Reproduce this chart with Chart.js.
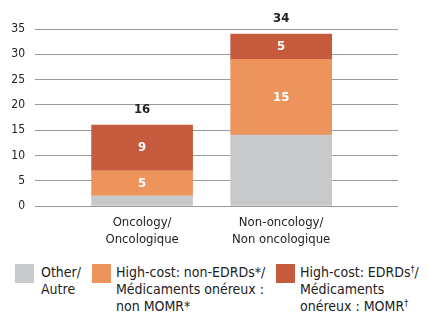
<!DOCTYPE html>
<html>
<head>
<meta charset="utf-8">
<script src="https://cdn.jsdelivr.net/npm/chart.js@4"></script>
<style>
  body { margin: 0; background: #fff; }
  #wrap { position: relative; width: 429px; height: 323px; }
  #box { position: absolute; left: 0; top: 0; width: 429px; height: 250px; }
  .leg { position: absolute; top: 264px; font-family: 'Liberation Sans Narrow', 'DejaVu Sans Condensed', sans-serif;
         font-size: 14px; line-height: 17px; color: #222; }
  .leg span.sw { position: absolute; left: 0; top: 0; width: 19px; height: 19px; }
  .leg div { position: absolute; top: 0; white-space: nowrap; }
  .leg sup { font-size: 9px; line-height: 0; vertical-align: 5px; }
</style>
</head>
<body>
<div id="wrap">
  <div id="box"><canvas id="chart1"></canvas></div>
  <div id="legend"></div>
</div>
<script>
const categories = [['Oncology/', 'Oncologique'], ['Non-oncology/', 'Non oncologique']];
const otherVals = [2, 14];
const nonEdrdVals = [5, 15];
const edrdVals = [9, 5];
const yTicks = [0, 5, 10, 15, 20, 25, 30, 35];

const seriesNames = [
  ['Other/', 'Autre'],
  ['High-cost: non-EDRDs*/', 'Médicaments onéreux :', 'non MOMR*'],
  ['High-cost: EDRDs†/', 'Médicaments', 'onéreux : MOMR†']
];
const seriesColors = ['#c8c9cb', '#ec945c', '#c65a3c'];

const font = "'Liberation Sans Narrow', 'DejaVu Sans Condensed', sans-serif";

// bars sit at x = 1, 2 on a linear axis so the gridlines can run wider than the bars
const toPoints = vals => vals.map((v, i) => ({ x: i + 1, y: v }));

const valueLabels = {
  id: 'valueLabels',
  afterDatasetsDraw(chart) {
    const c = chart.ctx;
    c.save();
    c.textAlign = 'center';
    c.textBaseline = 'middle';
    c.font = 'bold 13px ' + font;
    // segment values (skip the grey "other" part)
    [1, 2].forEach(di => {
      chart.getDatasetMeta(di).data.forEach((bar, i) => {
        c.fillStyle = '#fff';
        c.fillText(chart.data.datasets[di].data[i].y, bar.x, (bar.y + bar.base) / 2);
      });
    });
    // totals above each bar
    const top = chart.getDatasetMeta(2).data;
    top.forEach((bar, i) => {
      const total = otherVals[i] + nonEdrdVals[i] + edrdVals[i];
      c.fillStyle = '#222';
      c.fillText(total, bar.x, bar.y - 15);
    });
    c.restore();
  }
};

var ctx = document.getElementById('chart1').getContext('2d');
new Chart(ctx, {
  type: 'bar',
  data: {
    datasets: [otherVals, nonEdrdVals, edrdVals].map((vals, i) => ({
      label: seriesNames[i].join(' '),
      data: toPoints(vals),
      backgroundColor: seriesColors[i],
      borderWidth: 0,
      barThickness: 101
    }))
  },
  options: {
    responsive: true,
    maintainAspectRatio: false,
    animation: false,
    layout: { padding: { top: 29, right: 31, left: 0, bottom: 0 } },
    plugins: { legend: { display: false }, tooltip: { enabled: false } },
    scales: {
      x: {
        type: 'linear',
        stacked: true,
        offset: false,
        min: 0.23,
        max: 2.84,
        grid: { display: false },
        border: { display: false },
        afterBuildTicks: scale => { scale.ticks = categories.map((c, i) => ({ value: i + 1 })); },
        afterFit: scale => { scale.height = 44; },
        ticks: {
          padding: 0,
          autoSkip: false,
          maxRotation: 0,
          color: '#222',
          font: { family: font, size: 13, lineHeight: 1.3 },
          callback: v => categories[v - 1]
        }
      },
      y: {
        stacked: true,
        min: 0,
        max: 35,
        afterBuildTicks: scale => { scale.ticks = yTicks.map(v => ({ value: v })); },
        afterFit: scale => { scale.width = 35; },
        grid: { color: '#9a9a9a', lineWidth: 1, drawTicks: false },
        border: { display: false },
        ticks: {
          padding: 10,
          color: '#222',
          font: { family: font, size: 12 }
        }
      }
    }
  },
  plugins: [valueLabels]
});

// legend below the chart
const legendPos = [[15, 41], [92, 116], [276, 300]];
const legend = document.getElementById('legend');
seriesNames.forEach((lines, i) => {
  const item = document.createElement('div');
  item.className = 'leg';
  item.style.left = legendPos[i][0] + 'px';
  const sw = document.createElement('span');
  sw.className = 'sw';
  sw.style.background = seriesColors[i];
  const txt = document.createElement('div');
  txt.style.left = (legendPos[i][1] - legendPos[i][0]) + 'px';
  txt.innerHTML = lines.join('<br>').replace(/†/g, '<sup>†</sup>');
  item.appendChild(sw);
  item.appendChild(txt);
  legend.appendChild(item);
});
</script>
</body>
</html>
